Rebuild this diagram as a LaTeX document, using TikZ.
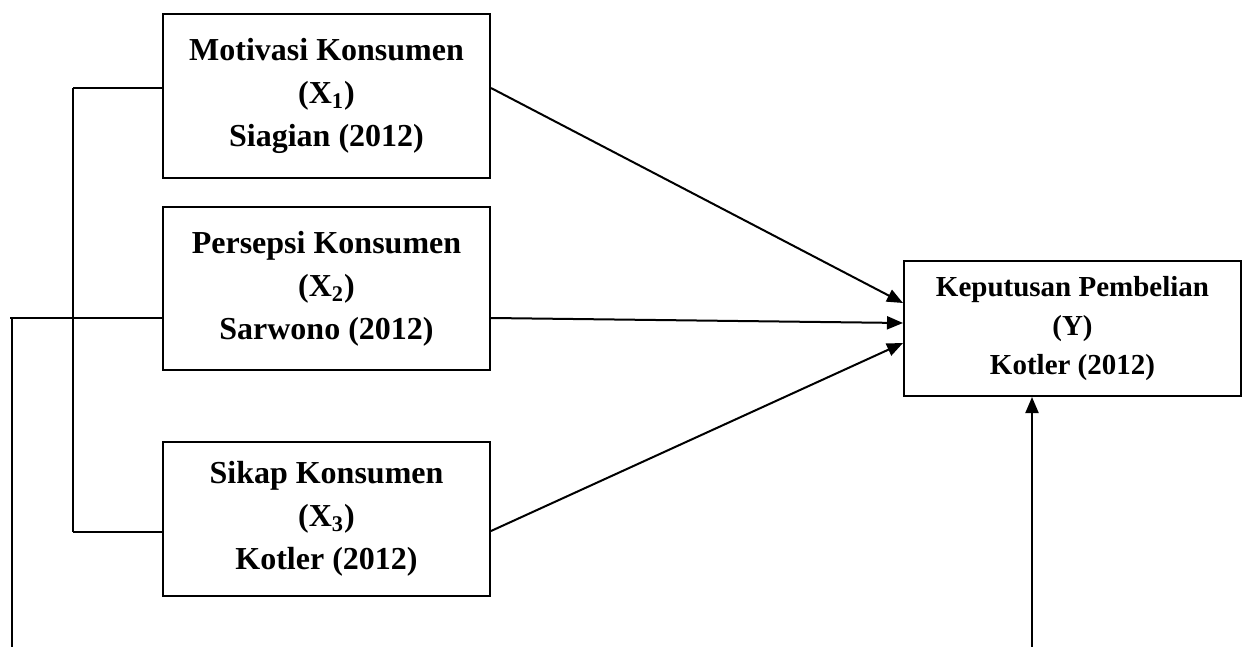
\documentclass[tikz,border=0pt]{standalone}
\usepackage{fontspec}
\setmainfont{Liberation Serif}
\usetikzlibrary{arrows.meta}
\begin{document}
\begin{tikzpicture}[x=0.5pt,y=-0.5pt,line width=1pt,
  varbox/.style={draw,align=center,font=\fontsize{16}{21.5}\selectfont\bfseries,
    minimum width=163.5pt,inner sep=0pt},
  ybox/.style={draw,align=center,font=\fontsize{14.5}{19.5}\selectfont\bfseries,
    minimum width=168.5pt,minimum height=67.5pt,inner sep=0pt},
  arr/.style={-{Triangle[length=8pt,width=6.5pt]}}]
  \useasboundingbox (0,0) rectangle (1246,647);
  % variable boxes
  \node[varbox,minimum height=82pt] (x1) at (326.5,96) {Motivasi Konsumen\\(X\textsubscript{1})\\Siagian (2012)};
  \node[varbox,minimum height=81.5pt] (x2) at (326.5,288.5) {Persepsi Konsumen\\(X\textsubscript{2})\\Sarwono (2012)};
  \node[varbox,minimum height=77pt] (x3) at (326.5,519) {Sikap Konsumen\\(X\textsubscript{3})\\Kotler (2012)};
  \node[ybox] (y) at (1072.5,328.5) {Keputusan Pembelian\\(Y)\\Kotler (2012)};
  % bracket on the left
  \coordinate (brtop) at (73,88);
  \coordinate (brmid) at (73,318);
  \coordinate (brbot) at (73,532);
  \draw (brtop) -- (brbot);
  \draw (brtop) -- (brtop -| x1.west);
  \draw (brmid) -- (brmid -| x2.west);
  \draw (brbot) -- (brbot -| x3.west);
  % outer loop
  \coordinate (loop) at (12,318);
  \coordinate (loopend) at (12,647);
  \draw (10,318) -- (brmid);
  \draw (loop) -- (loopend);
  \coordinate (fb) at (1032,647);
  \draw[arr] (fb) -- (fb |- y.south);
  % arrows to Y
  \draw[arr] ([yshift=4pt]x1.east) -- ([yshift=12.75pt]y.west);
  \draw[arr] ([yshift=-14.75pt]x2.east) -- ([yshift=2.75pt]y.west);
  \draw[arr] ([yshift=-6pt]x3.east) -- ([yshift=-7.25pt]y.west);
\end{tikzpicture}
\end{document}
